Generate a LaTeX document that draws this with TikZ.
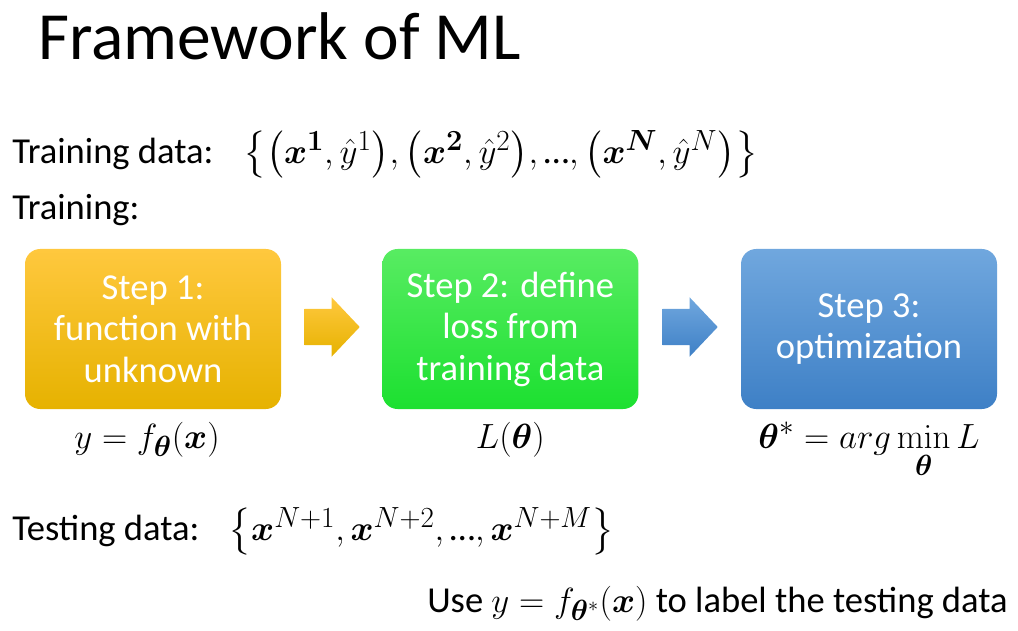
\documentclass[tikz,border=0pt]{standalone}
\usepackage{amsmath,amssymb,bm}
\usepackage[no-math]{fontspec}
\setmainfont{Carlito}
\usetikzlibrary{positioning, calc}
\definecolor{oneTop}{RGB}{255,200,62}
\definecolor{oneBot}{RGB}{230,178,0}
\definecolor{twoTop}{RGB}{88,236,98}
\definecolor{twoBot}{RGB}{28,224,48}
\definecolor{thrTop}{RGB}{112,167,222}
\definecolor{thrBot}{RGB}{62,128,198}
\newcommand{\bx}{\boldsymbol{x}}
\newcommand{\bth}{\boldsymbol{\theta}}
\newcommand{\dts}{\text{\fontsize{26}{31}\selectfont …}}

\begin{document}
\begin{tikzpicture}[
  txt/.style={inner sep=0pt, font=\fontsize{26}{31}\selectfont},
  mth/.style={inner sep=0pt, font=\fontsize{30}{36}\selectfont},
  setx/.style={inner sep=0pt, font=\fontsize{28}{33}\selectfont},
  stepbox/.style={rounded corners=0.38cm, minimum width=6.4cm, minimum height=4cm,
    align=center, text=white, font=\fontsize{26}{29.5}\selectfont, inner sep=0pt}
]
\useasboundingbox (0,0) rectangle (25.45,15.75);
% title and data
\node[anchor=base west, inner sep=0pt, font=\fontsize{48}{56}\selectfont] (title) at (0.95,14.25) {Framework of ML};
\node[txt, anchor=base west] (tdata) at (0.3,11.67) {Training data:};
\node[setx, anchor=base west] (tset) at (6.07,11.67)
  {$\bigl\{\bigl(\bx^{\boldsymbol{1}},\hat{y}^{1}\bigr),\bigl(\bx^{\boldsymbol{2}},\hat{y}^{2}\bigr),\dts,\bigl(\bx^{\boldsymbol{N}},\hat{y}^{N}\bigr)\bigr\}$};
\node[txt, anchor=base west] (training) at (0.3,10.25) {Training:};
% the three steps
\node[stepbox, top color=oneTop, bottom color=oneBot] (step1) at (3.825,7.525) {Step 1:\\function with\\unknown};
\node[stepbox, top color=twoTop, bottom color=twoBot] (step2) at (12.76,7.525) {Step 2: define\\loss from\\training data};
\node[stepbox, top color=thrTop, bottom color=thrBot] (step3) at (21.725,7.525) {Step 3:\\optimization};
\coordinate (a1) at ($(step1.east)!0.5!(step2.west)+(0,0.05)$);
\coordinate (a2) at ($(step2.east)!0.5!(step3.west)+(0,0.05)$);
\shade[top color=oneTop, bottom color=oneBot] ([shift={(-0.675,0.45)}]a1) -- ++(0.675,0) -- ++(0,0.29)
  -- ([xshift=0.7cm]a1) -- ([shift={(0,-0.74)}]a1) -- ++(0,0.29) -- ++(-0.675,0) -- cycle;
\shade[top color=thrTop, bottom color=thrBot] ([shift={(-0.675,0.45)}]a2) -- ++(0.675,0) -- ++(0,0.29)
  -- ([xshift=0.7cm]a2) -- ([shift={(0,-0.74)}]a2) -- ++(0,0.29) -- ++(-0.675,0) -- cycle;
% formulas under the steps
\node[mth, anchor=base] (model) at ([xshift=-0.15cm, yshift=-0.975cm]step1.south) {$y=f_{\bth}(\bx)$};
\node[mth, anchor=base] (loss) at ([yshift=-0.975cm]step2.south) {$L(\bth)$};
\node[mth, anchor=base] (opt) at ([yshift=-0.975cm]step3.south) {$\bth^{*}=arg\min\limits_{\bth}L$};
% testing
\node[txt, anchor=base west] (testdata) at (0.3,2.25) {Testing data:};
\node[setx, anchor=base west] (testset) at (5.7,2.25)
  {$\bigl\{\bx^{N+1},\bx^{N+2},\dts,\bx^{N+M}\bigr\}$};
\node[txt, anchor=base east] (use) at (25.2,0.45)
  {Use {\fontsize{30}{36}\selectfont$y=f_{\bth^{*}}(\bx)$} to label the testing data};
\end{tikzpicture}
\end{document}
